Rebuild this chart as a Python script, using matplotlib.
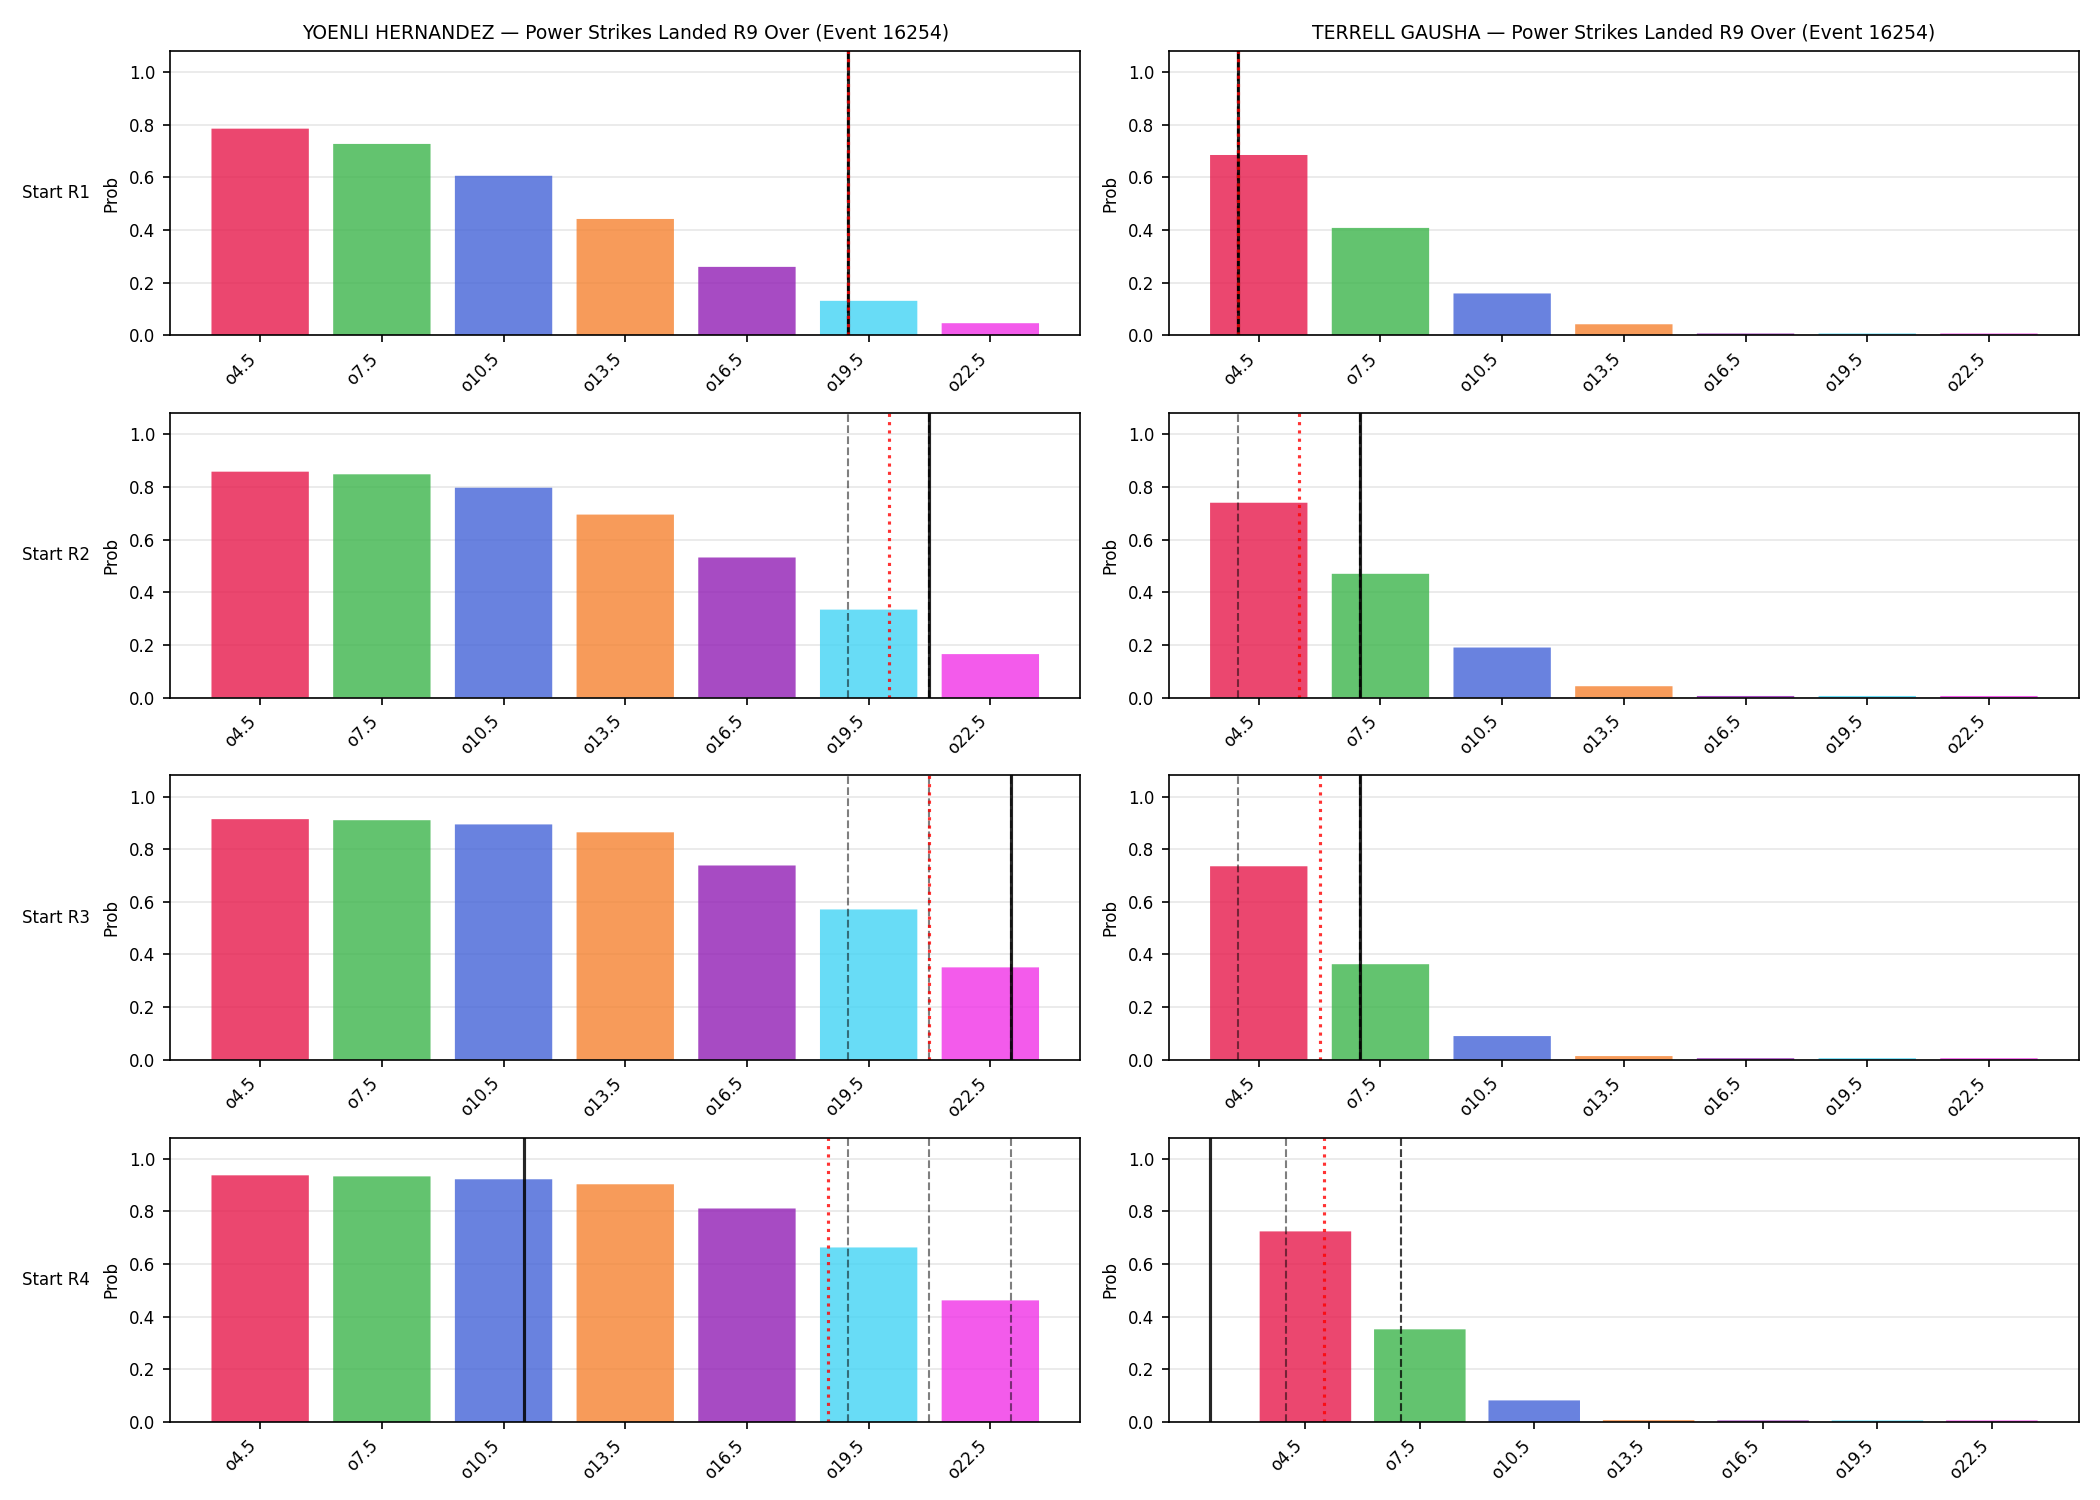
import numpy as np
import matplotlib
matplotlib.use("Agg")
import matplotlib.pyplot as plt

# over lines (same for every panel)
lines = ["o4.5", "o7.5", "o10.5", "o13.5", "o16.5", "o19.5", "o22.5"]
line_vals = [4.5, 7.5, 10.5, 13.5, 16.5, 19.5, 22.5]
colors = ["#e6194b", "#3cb44b", "#4363d8", "#f58231", "#911eb4", "#42d4f4", "#f032e6"]

fighters = ["YOENLI HERNANDEZ", "TERRELL GAUSHA"]
event_id = 16254
starts = ["Start R1", "Start R2", "Start R3", "Start R4"]

# P(over) per start round, per fighter
hernandez_probs = [
    [0.785, 0.727, 0.606, 0.442, 0.260, 0.131, 0.046],
    [0.858, 0.848, 0.797, 0.695, 0.532, 0.334, 0.165],
    [0.914, 0.910, 0.894, 0.864, 0.738, 0.571, 0.351],
    [0.937, 0.933, 0.922, 0.903, 0.811, 0.663, 0.462],
]
gausha_probs = [
    [0.685, 0.408, 0.159, 0.042, 0.007, 0.007, 0.007],
    [0.740, 0.470, 0.190, 0.043, 0.006, 0.006, 0.006],
    [0.735, 0.363, 0.090, 0.014, 0.006, 0.006, 0.006],
    [0.724, 0.352, 0.082, 0.007, 0.006, 0.006, 0.006],
]

# markers in strike units: quantiles (dashed), mean (red dotted), current (black)
hernandez_q = [[19, 19, 19], [19, 21, 21], [19, 21, 23], [19, 21, 23]]
hernandez_mean = [19, 20, 21, 18.5]
hernandez_now = [19, 21, 23, 11]
gausha_q = [[4, 4, 4], [4, 7, 7], [4, 7, 7], [4, 7, 7]]
gausha_mean = [4, 5.5, 6, 5]
gausha_now = [4, 7, 7, 2]

probs = [hernandez_probs, gausha_probs]
quants = [hernandez_q, gausha_q]
means = [hernandez_mean, gausha_mean]
nows = [hernandez_now, gausha_now]


def to_pos(v):
    # map a strike count onto the bar index scale
    step = line_vals[1] - line_vals[0]
    return (v - line_vals[0]) / step


fig, axes = plt.subplots(4, 2, figsize=(14, 10), dpi=150)
fig.subplots_adjust(left=0.081, right=0.990, top=0.966, bottom=0.052,
                    wspace=0.097, hspace=0.274)

x = np.arange(len(lines))
for c in range(2):
    for r in range(4):
        ax = axes[r, c]
        ax.bar(x, probs[c][r], color=colors, alpha=0.8, width=0.8, snap=False)
        for q in quants[c][r]:
            ax.axvline(to_pos(q), color="k", linestyle="--", linewidth=1.0, alpha=0.5)
        ax.axvline(to_pos(nows[c][r]), color="k", linestyle="-", linewidth=1.5, alpha=0.85)
        ax.axvline(to_pos(means[c][r]), color="red", linestyle=":", linewidth=1.5, alpha=0.8)
        ax.set_ylim(0, 1.08)
        ax.set_xticks(x)
        ax.set_xticklabels(lines, rotation=45, ha="right", fontsize=8)
        ax.tick_params(axis="y", labelsize=8)
        ax.set_ylabel("Prob", fontsize=8)
        ax.grid(axis="y", alpha=0.3)
        ax.set_axisbelow(True)
        if r == 0:
            ax.set_title(f"{fighters[c]} \u2014 Power Strikes Landed R9 Over (Event {event_id})",
                         fontsize=9)
        if c == 0:
            ax.text(-0.163, 0.5, starts[r], transform=ax.transAxes,
                    ha="left", va="center", fontsize=8)

fig.savefig("out.png", dpi=150)
